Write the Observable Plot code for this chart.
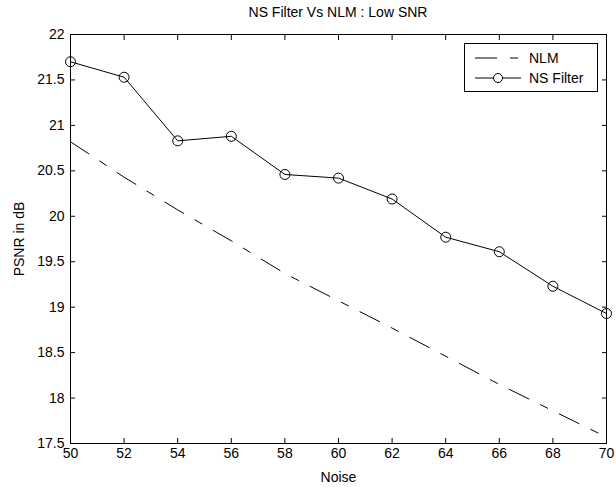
<!DOCTYPE html>
<html>
<head>
<meta charset="utf-8">
<script src="https://cdn.jsdelivr.net/npm/d3@7"></script>
<script src="https://cdn.jsdelivr.net/npm/@observablehq/plot@0.6"></script>
<style>
  html, body { margin: 0; padding: 0; background: #fff; }
  #wrap { position: relative; width: 616px; height: 487px; font-family: "Liberation Sans", Arial, sans-serif; }
  #title { position: absolute; left: 70px; width: 536px; top: 4px; text-align: center; font-size: 14px; color: #000; }
  #legend { position: absolute; left: 464px; top: 43px; width: 134px; height: 49px; border: 1px solid #000; background: #fff; box-sizing: border-box; font-size: 14px; }
  .lrow { position: absolute; left: 0; height: 20px; display: flex; align-items: center; }
  .lrow svg { display: block; }
  .lrow span { margin-left: 4px; }
</style>
</head>
<body>
<div id="wrap">
  <div id="chart"></div>
  <div id="title">NS Filter Vs NLM : Low SNR</div>
  <div id="legend"></div>
</div>
<script>
const noise = [50, 52, 54, 56, 58, 60, 62, 64, 66, 68, 70];
const nlm = [20.82, 20.43, 20.07, 19.73, 19.37, 19.07, 18.77, 18.46, 18.15, 17.86, 17.57];
const nsFilter = [21.70, 21.53, 20.83, 20.88, 20.46, 20.42, 20.19, 19.77, 19.61, 19.23, 18.93];
const xTicks = [50, 52, 54, 56, 58, 60, 62, 64, 66, 68, 70];
const yTicks = [17.5, 18, 18.5, 19, 19.5, 20, 20.5, 21, 21.5, 22];
const seriesNames = ["NLM", "NS Filter"];

const nlmData = noise.map((x, i) => ({x, y: nlm[i]}));
const nsData = noise.map((x, i) => ({x, y: nsFilter[i]}));

const font = "Liberation Sans, Arial, sans-serif";
const fmt = d => String(d);

const chart = Plot.plot({
  width: 616,
  height: 487,
  marginLeft: 70,
  marginRight: 10,
  marginTop: 34,
  marginBottom: 44,
  style: {fontFamily: font, fontSize: "14px", color: "#000", background: "#fff"},
  x: {domain: [50, 70]},
  y: {domain: [17.5, 22]},
  marks: [
    Plot.frame({stroke: "#000", strokeWidth: 1}),
    // bottom labels
    Plot.axisX({ticks: xTicks, tickSize: 0, tickPadding: 5, tickFormat: fmt, label: "Noise", labelAnchor: "center", labelArrow: "none", labelOffset: 38, fontSize: 14}),
    // inward ticks
    Plot.axisX({ticks: xTicks, anchor: "bottom", tickSize: 5, dy: -5, tickFormat: () => "", label: null}),
    Plot.axisX({ticks: xTicks, anchor: "top", tickSize: 5, dy: 5, tickFormat: () => "", label: null}),
    Plot.axisY({ticks: yTicks, tickSize: 0, tickPadding: 6, tickFormat: fmt, label: "PSNR in dB", labelAnchor: "center", labelArrow: "none", labelOffset: 56, fontSize: 14}),
    Plot.axisY({ticks: yTicks, anchor: "left", tickSize: 5, dx: 5, tickFormat: () => "", label: null}),
    Plot.axisY({ticks: yTicks, anchor: "right", tickSize: 5, dx: -5, tickFormat: () => "", label: null}),
    Plot.line(nlmData, {x: "x", y: "y", stroke: "#000", strokeWidth: 1, strokeDasharray: "22,13,8,13"}),
    Plot.line(nsData, {x: "x", y: "y", stroke: "#000", strokeWidth: 1}),
    Plot.dot(nsData, {x: "x", y: "y", r: 5, stroke: "#000", fill: "none", strokeWidth: 1})
  ]
});
document.getElementById("chart").appendChild(chart);

// legend
const legend = document.getElementById("legend");
const rows = [
  {name: seriesNames[0], dash: "22,13,8,13", marker: false},
  {name: seriesNames[1], dash: null, marker: true}
];
rows.forEach((r, i) => {
  const row = document.createElement("div");
  row.className = "lrow";
  row.style.top = (4 + i * 20) + "px";
  const ns = "http://www.w3.org/2000/svg";
  const s = document.createElementNS(ns, "svg");
  s.setAttribute("width", 60);
  s.setAttribute("height", 20);
  const ln = document.createElementNS(ns, "line");
  ln.setAttribute("x1", 10); ln.setAttribute("x2", 56);
  ln.setAttribute("y1", 10); ln.setAttribute("y2", 10);
  ln.setAttribute("stroke", "#000");
  if (r.dash) ln.setAttribute("stroke-dasharray", "22,13,8,13");
  s.appendChild(ln);
  if (r.marker) {
    const c = document.createElementNS(ns, "circle");
    c.setAttribute("cx", 33); c.setAttribute("cy", 10); c.setAttribute("r", 4.5);
    c.setAttribute("fill", "#fff"); c.setAttribute("stroke", "#000");
    s.appendChild(c);
  }
  row.appendChild(s);
  const t = document.createElement("span");
  t.textContent = r.name;
  row.appendChild(t);
  legend.appendChild(row);
});
</script>
</body>
</html>
